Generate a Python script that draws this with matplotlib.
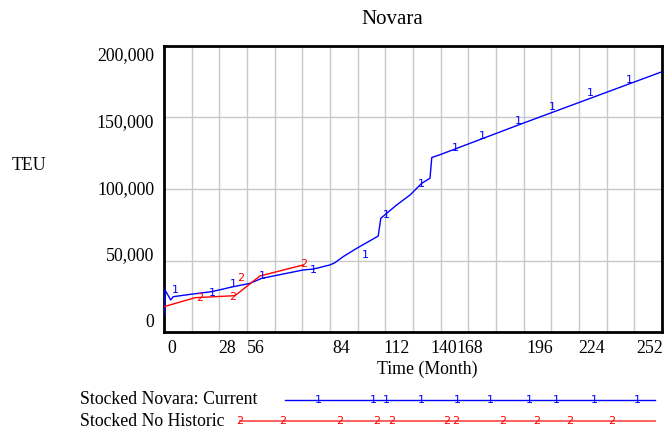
import numpy as np
import matplotlib
matplotlib.use("Agg")
import matplotlib.pyplot as plt
from matplotlib.lines import Line2D

# 1: Stocked Novara: Current
cur_month = [0, 0.5, 3.4, 4.7, 14.8, 24.1, 35.1, 43.5, 49.4, 70.5, 75.5, 84, 86.5,
             90.7, 97.5, 108.4, 109.7, 112.7, 117.7, 124.5, 130.4, 134.6, 135.5,
             139.7, 181.7, 252]
cur_teu = [11900, 29400, 22400, 24700, 26600, 28200, 31700, 34000, 37500, 43400,
           44000, 46900, 48500, 52700, 58500, 67100, 79500, 83000, 88800, 95800,
           104000, 107500, 122000, 124000, 146000, 182000]
# 2: Stocked No Historic
hist_month = [0, 15.7, 35.9, 48.6, 70.5]
hist_teu = [17700, 24000, 25400, 39200, 46900]

# where the series numbers are written in the plot
cur_label_month = [5.6, 24.3, 34.9, 49.6, 75.4, 101.7, 112.3, 130.0, 147.2, 161.3,
                   179.1, 196.4, 215.6, 235.4]
cur_label_teu = [29400, 27500, 33400, 39200, 43400, 53800, 81800, 103500, 128700,
                 137100, 147800, 157600, 167300, 176200]
hist_label_month = [17.9, 34.8, 38.8, 70.5]
hist_label_teu = [24000, 24700, 38000, 47500]

x_labels = ["0", "28", "56", "84", "112", "140", "168", "196", "224", "252"]
x_label_pos = [4.0, 31.9, 46.6, 89.6, 117.9, 141.7, 154.8, 190.3, 216.6, 245.9]
y_labels = ["0", "50,000", "100,000", "150,000", "200,000"]
y_label_pos = [7700, 54500, 100700, 147500, 194400]

blue = "#0000ff"
red = "#ff0000"
serif = ["Liberation Serif", "DejaVu Serif"]

fig = plt.figure(figsize=(6.64, 4.32), dpi=100)
ax = fig.add_axes([164 / 664, 1 - 332 / 432, 498 / 664, 286 / 432])

ax.plot(cur_month, cur_teu, color=blue, lw=1, zorder=3)
ax.plot(hist_month, hist_teu, color=red, lw=1, zorder=3)

# series numbers on the lines
for m, v in zip(cur_label_month, cur_label_teu):
    ax.text(m, v, "1", color=blue, fontsize=8, ha="center", va="center",
            family="DejaVu Sans", zorder=4)
for m, v in zip(hist_label_month, hist_label_teu):
    ax.text(m, v, "2", color=red, fontsize=8, ha="center", va="center",
            family="DejaVu Sans", zorder=4)

ax.set_xlim(0, 252)
ax.set_ylim(0, 200000)

# grid
ax.set_xticks(np.arange(0, 253, 14), minor=True)
ax.set_yticks(np.arange(0, 200001, 50000), minor=True)
ax.grid(which="minor", color="#c8c8c8", lw=1)
ax.tick_params(which="minor", length=0)

ax.set_xticks(x_label_pos)
ax.set_xticklabels(x_labels, family=serif, fontsize=12.8)
ax.set_yticks(y_label_pos)
ax.set_yticklabels(y_labels, family=serif, fontsize=12.8)
ax.tick_params(which="major", length=0)
ax.tick_params(axis="x", pad=5.5)
ax.tick_params(axis="y", pad=7)

for s in ax.spines.values():
    s.set_linewidth(2)
    s.set_color("black")

fig.text(392 / 664, 1 - 19 / 432, "Novara", family=serif, fontsize=15,
         ha="center", va="center")
ax.set_xlabel("Time (Month)", family=serif, fontsize=12.8)
ax.xaxis.set_label_coords((427 - 164) / 498, -37 / 286)
ax.xaxis.label.set_va("center")
fig.text(29 / 664, 1 - 166 / 432, "TEU", family=serif, fontsize=12.8,
         ha="center", va="center")

# legend rows drawn below the plot
fig.text(80 / 664, 1 - 400 / 432, "Stocked Novara: Current", family=serif,
         fontsize=12.8, ha="left", va="center")
fig.text(80 / 664, 1 - 421 / 432, "Stocked No Historic", family=serif,
         fontsize=12.8, ha="left", va="center")
fig.add_artist(Line2D([285 / 664, 655 / 664], [1 - 400 / 432, 1 - 400 / 432],
                      color=blue, lw=1, transform=fig.transFigure))
fig.add_artist(Line2D([240 / 664, 655 / 664], [1 - 421 / 432, 1 - 421 / 432],
                      color="#ff6060", lw=1.4, transform=fig.transFigure))
for px in [318, 373, 386, 421, 457, 490, 529, 556, 594, 637]:
    fig.text(px / 664, 1 - 400 / 432, "1", color=blue, fontsize=8,
             ha="center", va="center", family="DejaVu Sans")
for px in [240, 283, 340, 377, 392, 447, 456, 503, 537, 570, 612]:
    fig.text(px / 664, 1 - 421 / 432, "2", color=red, fontsize=8,
             ha="center", va="center", family="DejaVu Sans")

fig.savefig("out.png", dpi=100)
